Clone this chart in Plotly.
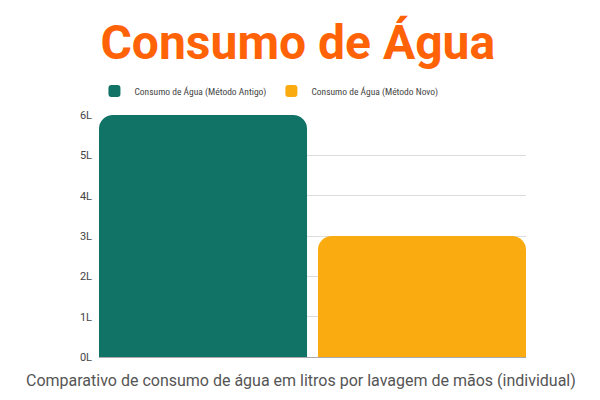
import plotly.graph_objects as go

# Dados do gráfico
metodos = ["Consumo de Água (Método Antigo)", "Consumo de Água (Método Novo)"]
litros = [6, 3]
cores = ["#107366", "#f9ab0f"]
ticks_y = [0, 1, 2, 3, 4, 5, 6]
ticks_txt = ["0L", "1L", "2L", "3L", "4L", "5L", "6L"]

fig = go.Figure()
for i, (nome, valor, cor) in enumerate(zip(metodos, litros, cores)):
    fig.add_trace(go.Bar(x=[i], y=[valor], name=nome, width=0.95,
                         marker=dict(color=cor, cornerradius=14, line=dict(width=0))))

# a página tem margem de 8px no body, por isso as margens estão compensadas
fig.update_layout(
    width=600, height=400,
    paper_bgcolor="white", plot_bgcolor="white",
    margin=dict(l=91, r=82, t=107, b=51, autoexpand=False),
    title=dict(text="<b>Consumo de Água</b>", x=0.483, xanchor="center", y=0.915, yanchor="middle",
               font=dict(family="Roboto", size=48, color="#ff6207")),
    legend=dict(orientation="h", x=0.398, xanchor="center", y=1.099, yanchor="middle",
                font=dict(family="Roboto Condensed, Liberation Sans Narrow, Roboto", size=9.5, color="#444444"),
                itemwidth=30, traceorder="normal"),
    showlegend=True,
    font=dict(family="Roboto"),
)
fig.add_annotation(text="Comparativo de consumo de água em litros por lavagem de mãos (individual)",
                   xref="paper", yref="paper", x=0.472, y=-0.099, xanchor="center", yanchor="middle",
                   showarrow=False, font=dict(size=16, color="#555555"))
fig.update_xaxes(range=[-0.475, 1.475], showticklabels=False, showgrid=False, zeroline=False,
                 showline=True, linecolor="#aaaaaa", linewidth=1, automargin=False)
fig.update_yaxes(range=[0, 6], tickvals=ticks_y, ticktext=ticks_txt, showgrid=True,
                 gridcolor="#dddddd", zeroline=False, ticks="", ticklabelstandoff=6, automargin=False,
                 tickfont=dict(size=11, color="#444444"))

fig.write_html("out.html")
